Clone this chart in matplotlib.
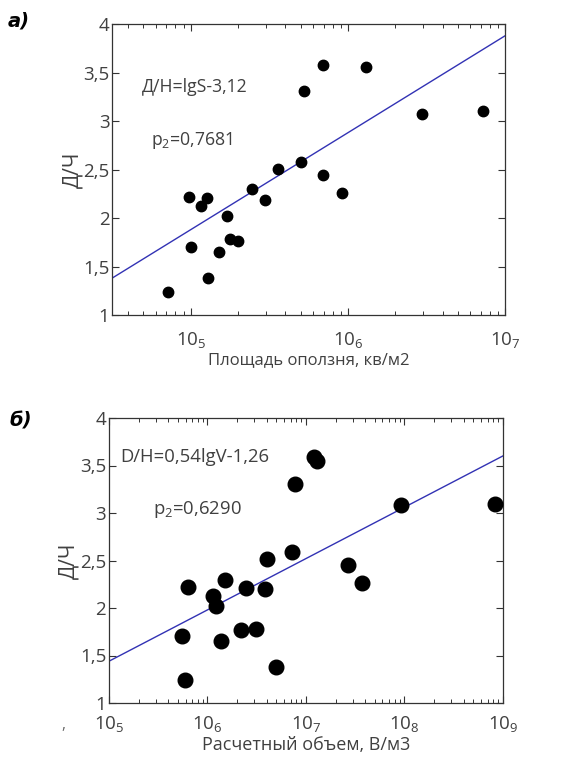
import numpy as np
import matplotlib
matplotlib.use('Agg')
import matplotlib.pyplot as plt
from matplotlib.ticker import LogLocator, NullFormatter

plt.rcParams['font.family'] = ['Open Sans', 'DejaVu Sans']
plt.rcParams['mathtext.fontset'] = 'custom'
plt.rcParams['mathtext.rm'] = 'Open Sans'

# --- panel а): area of landslide vs D/H ---
area_x = [7.2e4, 9.75e4, 1.01e5, 1.16e5, 1.27e5, 1.28e5, 1.52e5, 1.71e5, 1.77e5, 2.0e5,
          2.45e5, 2.98e5, 3.59e5, 5.04e5, 5.28e5, 6.97e5, 6.92e5, 9.16e5, 1.30e6, 2.96e6, 7.2e6]
area_y = [1.24, 2.22, 1.70, 2.12, 2.21, 1.38, 1.65, 2.02, 1.78, 1.76,
          2.30, 2.19, 2.51, 2.58, 3.31, 3.58, 2.44, 2.26, 3.56, 3.07, 3.10]
area_fit_x = [10**4.5, 1e7]
area_fit_y = [1.38, 3.88]

# --- panel б): computed volume vs D/H ---
vol_x = [5.46e5, 5.96e5, 6.38e5, 1.15e6, 1.21e6, 1.37e6, 1.49e6, 2.18e6, 2.44e6, 3.08e6,
         3.86e6, 4.05e6, 4.97e6, 7.28e6, 7.69e6, 1.22e7, 1.30e7, 2.69e7, 3.71e7, 9.18e7, 8.35e8]
vol_y = [1.71, 1.24, 2.22, 2.13, 2.02, 1.65, 2.30, 1.77, 2.21, 1.78,
         2.20, 2.52, 1.38, 2.59, 3.31, 3.59, 3.55, 2.45, 2.26, 3.08, 3.10]
vol_fit_x = [1e5, 1e9]
vol_fit_y = [1.44, 3.60]

y_ticks = [1, 1.5, 2, 2.5, 3, 3.5, 4]
y_ticklabels = ['1', '1,5', '2', '2,5', '3', '3,5', '4']

TXT = '#404040'


def draw_panel(ax, x, y, fit_x, fit_y, xlim, decades, xlabel, eq, r2, msize,
               eq_pos, r2_pos, txt_size, xlab_size, xpad):
    ax.set_xscale('log')
    ax.plot(fit_x, fit_y, color='#3232b4', linewidth=1.0, zorder=2)
    ax.plot(x, y, 'o', color='black', markersize=msize, zorder=3)
    ax.set_xlim(*xlim)
    ax.set_ylim(1, 4)

    ax.set_yticks(y_ticks)
    ax.set_yticklabels(y_ticklabels)
    ax.set_xticks([10.0**d for d in decades])
    ax.set_xticklabels([r'$\mathregular{10_{%d}}$' % d for d in decades])
    ax.xaxis.set_minor_locator(LogLocator(base=10, subs=np.arange(2, 10)))
    ax.xaxis.set_minor_formatter(NullFormatter())

    ax.tick_params(which='both', direction='in', top=True, right=True,
                   colors='#333333', labelcolor=TXT, labelsize=13.5)
    ax.tick_params(which='major', length=5, width=0.8)
    ax.tick_params(which='minor', length=3, width=0.7)
    ax.tick_params(axis='x', pad=xpad)
    ax.tick_params(axis='y', pad=2)
    for s in ax.spines.values():
        s.set_color('#333333')
        s.set_linewidth(0.9)

    ax.set_xlabel(xlabel, fontsize=xlab_size, color=TXT, labelpad=1)
    ax.set_ylabel('Д/Ч', fontsize=15, color=TXT, labelpad=0)
    ax.text(eq_pos[0], eq_pos[1], eq, transform=ax.transAxes, fontsize=txt_size, color=TXT,
            ha='left', va='center')
    ax.text(r2_pos[0], r2_pos[1], r2, transform=ax.transAxes, fontsize=txt_size, color=TXT,
            ha='left', va='center')


fig = plt.figure(figsize=(5.69, 7.60), dpi=100)

ax1 = fig.add_axes([0.197, 0.5855, 0.691, 0.3829])
draw_panel(ax1, area_x, area_y, area_fit_x, area_fit_y, (10**4.5, 1e7), [5, 6, 7],
           'Площадь оползня, кв/м2', 'Д/Н=lgS-3,12', r'р$\mathregular{_2}$=0,7681', 7.5,
           (0.077, 0.785), (0.10, 0.60), 12.7, 12, 11)

ax2 = fig.add_axes([0.1916, 0.075, 0.692, 0.375])
draw_panel(ax2, vol_x, vol_y, vol_fit_x, vol_fit_y, (1e5, 1e9), [5, 6, 7, 8, 9],
           'Расчетный объем, В/м3', 'D/H=0,54lgV-1,26', r'р$\mathregular{_2}$=0,6290', 10.5,
           (0.028, 0.863), (0.112, 0.68), 13.3, 13, 8)

panel_font = ['Liberation Sans Narrow', 'DejaVu Sans']
fig.text(0.013, 0.972, 'а)', fontsize=14, fontweight='bold', fontstyle='italic',
         family=panel_font, ha='left', va='center')
fig.text(0.016, 0.446, 'б)', fontsize=14, fontweight='bold', fontstyle='italic',
         family=panel_font, ha='left', va='center')
fig.text(0.108, 0.046, ',', fontsize=11, color='#666666', ha='left', va='center')

fig.savefig('out.png', dpi=100)
